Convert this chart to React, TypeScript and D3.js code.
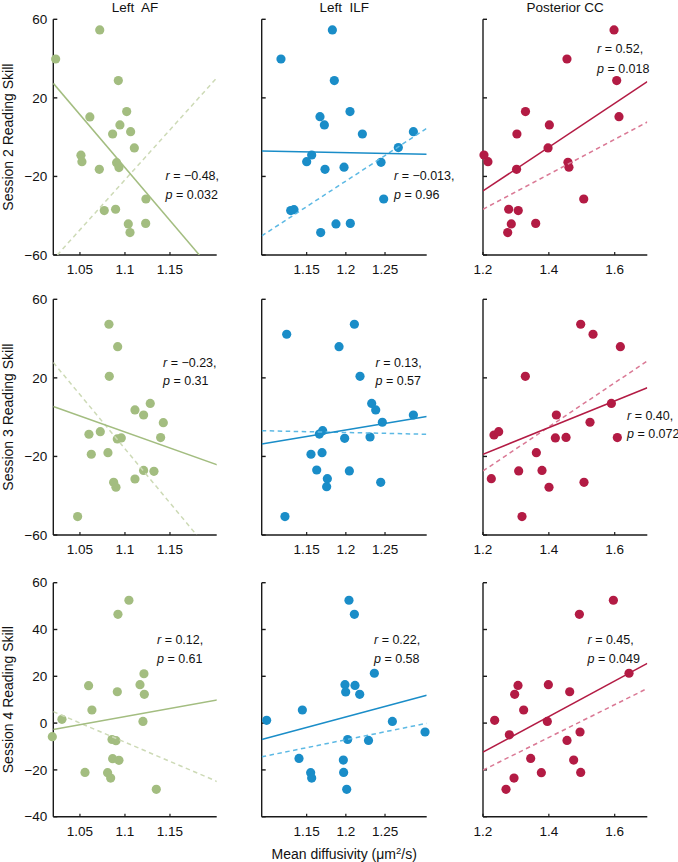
import React from 'react';
import * as d3 from 'd3';

const W = 678;
const H = 862;

// ---------- DATA ----------
const colTitles = ['Left  AF', 'Left  ILF', 'Posterior CC'];
const rowTitles = ['Session 2 Reading Skill', 'Session 3 Reading Skill', 'Session 4 Reading Skill'];

const xTickValues = [
  [1.05, 1.1, 1.15],
  [1.15, 1.2, 1.25],
  [1.2, 1.4, 1.6],
];
const xTickLabels = [
  ['1.05', '1.1', '1.15'],
  ['1.15', '1.2', '1.25'],
  ['1.2', '1.4', '1.6'],
];
const yTickValues = [
  [60, 20, -20, -60],
  [60, 20, -20, -60],
  [60, 40, 20, 0, -20, -40],
];
const xDomains = [
  [1.0204, 1.2019],
  [1.0926, 1.3032],
  [1.2, 1.699],
];
const yDomains = [
  [-60, 60],
  [-60, 60],
  [-40, 60],
];

// Session 2
const s2AF = [
  [1.072, 54.6], [1.023, 39.8], [1.0926, 28.8], [1.061, 10.3], [1.1019, 13], [1.0944, 6.2],
  [1.0863, 1.6], [1.1063, 2.8], [1.1104, -5.5], [1.0511, -9.2], [1.0522, -12.5], [1.0715, -16.4],
  [1.0907, -13], [1.0933, -15.5], [1.1233, -31.5], [1.077, -37.4], [1.0896, -36.7], [1.1037, -44.2],
  [1.123, -43.9], [1.1056, -48.6],
];
const s2ILF = [
  [1.1828, 54.6], [1.1172, 39.8], [1.1853, 28.8], [1.2053, 13], [1.167, 10.4], [1.1726, 6.2],
  [1.2211, 1.6], [1.2862, 2.8], [1.267, -5.3], [1.1564, -9.1], [1.15, -12.5], [1.1734, -16.4],
  [1.1977, -15.3], [1.2449, -12.8], [1.2483, -31.5], [1.1296, -37.4], [1.1338, -36.9], [1.1679, -48.6],
  [1.1874, -44.2], [1.2057, -43.9],
];
const s2CC = [
  [1.598, 54.6], [1.455, 39.8], [1.606, 28.8], [1.613, 10.4], [1.329, 13], [1.4015, 6.2],
  [1.303, 1.6], [1.3975, -5.5], [1.203, -9.1], [1.215, -12.5], [1.302, -16.4], [1.458, -12.8],
  [1.461, -15.3], [1.506, -31.5], [1.278, -36.7], [1.307, -37.4], [1.286, -44.2], [1.36, -43.9],
  [1.275, -48.6],
];
// Session 3
const s3AF = [
  [1.0822, 47.3], [1.0919, 35.9], [1.0826, 20.8], [1.1111, 3.7], [1.1281, 7], [1.1207, 1.1],
  [1.1426, -2.8], [1.1396, -10.4], [1.06, -8.7], [1.0726, -7.4], [1.0915, -11.1], [1.0959, -10.6],
  [1.0626, -18.9], [1.0811, -18.1], [1.1207, -27.1], [1.1322, -27.6], [1.1111, -31.5], [1.0874, -33.2],
  [1.09, -35.7], [1.0474, -50.6],
];
const s3ILF = [
  [1.1245, 42.2], [1.2109, 47.3], [1.1913, 35.9], [1.2181, 20.8], [1.233, 7], [1.2381, 3.7],
  [1.2466, -2.6], [1.2862, 1.1], [1.1704, -6.9], [1.1662, -8.6], [1.1985, -10.8], [1.2309, -10.1],
  [1.1555, -18.9], [1.1696, -18.1], [1.1628, -26.9], [1.2045, -27.4], [1.1764, -31.3], [1.1755, -35.4],
  [1.2445, -33.2], [1.1223, -50.6],
];
const s3CC = [
  [1.4967, 47.3], [1.5342, 42.2], [1.6172, 35.9], [1.3286, 20.8], [1.5899, 7], [1.4228, 1.1],
  [1.525, -2.6], [1.2334, -9.1], [1.2476, -7.4], [1.4198, -10.6], [1.4522, -10.3], [1.608, -10.4],
  [1.362, -18.1], [1.2253, -31.3], [1.3084, -27.4], [1.3792, -27.1], [1.4005, -35.7], [1.5068, -33.2],
  [1.3185, -50.6],
];
// Session 4
const s4AF = [
  [1.1044, 52.5], [1.0922, 46.5], [1.1211, 21.1], [1.1167, 16.4], [1.1215, 12.3], [1.0596, 16.0],
  [1.0915, 13.4], [1.0633, 5.6], [1.03, 1.6], [1.12, 0.7], [1.0193, -5.8], [1.0856, -7.0],
  [1.09, -7.5], [1.0863, -15.2], [1.0933, -15.9], [1.0556, -21.1], [1.0807, -21.2], [1.0841, -23.5],
  [1.1348, -28.3],
];
const s4ILF = [
  [1.204, 52.5], [1.2109, 46.5], [1.2364, 21.3], [1.1989, 16.4], [1.2117, 16.1], [1.1998, 13.3],
  [1.2177, 12.3], [1.1445, 5.6], [1.0989, 1.2], [1.2594, 0.7], [1.3011, -3.8], [1.2023, -7.0],
  [1.2289, -7.4], [1.1402, -15.1], [1.1968, -15.8], [1.1551, -21.2], [1.1972, -21.1], [1.1564, -23.5],
  [1.2011, -28.3],
];
const s4CC = [
  [1.596, 52.5], [1.4927, 46.5], [1.6435, 21.3], [1.3063, 16.1], [1.3985, 16.4], [1.2962, 12.3],
  [1.4633, 13.4], [1.3235, 5.6], [1.2354, 1.2], [1.3954, 0.7], [1.28, -5.0], [1.4947, -3.8],
  [1.4552, -7.4], [1.3448, -15.1], [1.4754, -15.8], [1.3772, -21.2], [1.4967, -21.1], [1.2942, -23.5],
  [1.2699, -28.3],
];

// Regression lines [x1, y1, x2, y2] in data units
const fitSolid = [
  [[1.0204, 27.4, 1.1826, -60], [1.0926, -7.0, 1.3032, -8.7], [1.2, -27.4, 1.699, 28.3]],
  [[1.0204, 5.4, 1.2026, -24.3], [1.0926, -13.7, 1.3032, 0.3], [1.2, -18.9, 1.699, 15.0]],
  [[1.0204, -2.7, 1.2026, 9.9], [1.0926, -7.0, 1.3032, 11.9], [1.2, -12.4, 1.699, 25.5]],
];
const fitDashed = [
  [[1.0248, -60, 1.2026, 30.5], [1.0926, -50.3, 1.3032, 4.5], [1.2, -36.7, 1.699, 7.7]],
  [[1.0204, 27.8, 1.1796, -60], [1.0926, -6.9, 1.3032, -8.7], [1.2, -27.4, 1.699, 28.6]],
  [[1.0204, 4.9, 1.2026, -25.0], [1.0926, -14.4, 1.3032, -0.1], [1.2, -20.1, 1.699, 14.8]],
];

const rValues = [
  ['\u22120.48,', '\u22120.013,', '0.52,'],
  ['\u22120.23,', '0.13,', '0.40,'],
  ['0.12,', '0.22,', '0.45,'],
];
const pValues = [
  ['0.032', '0.96', '0.018'],
  ['0.31', '0.57', '0.072'],
  ['0.61', '0.58', '0.049'],
];

const panelPoints = [
  [s2AF, s2ILF, s2CC],
  [s3AF, s3ILF, s3CC],
  [s4AF, s4ILF, s4CC],
];

// ---------- LAYOUT / STYLE ----------
const colX = [[53.3, 216.7], [261.7, 426.7], [483, 647.3]];
const rowY = [[19.3, 255], [299.3, 535], [582.7, 816.7]];
const statPos = [
  [[165.5, 176, 195], [394, 176, 195], [597, 48.3, 68.3]],
  [[163, 362.7, 381], [375.5, 362.5, 381], [627, 416, 434]],
  [[157, 639.5, 658.3], [374, 640, 658.3], [587.5, 640, 658.3]],
];
const colColors = ['#a3bd80', '#1a8dc8', '#b31b44'];
const dashColors = ['#cddab6', '#5db9e4', '#da7995'];
const FONT = "'Liberation Sans', Arial, Helvetica, sans-serif";
const AXIS = '#1a1a1a';

function Panel({ r, c }: { r: number; c: number }) {
  const [x0, x1] = colX[c];
  const [y0, y1] = rowY[r];
  const xs = d3.scaleLinear().domain(xDomains[c]).range([x0, x1]);
  const ys = d3.scaleLinear().domain(yDomains[r]).range([y1, y0]);
  const clipId = `clip-${r}-${c}`;
  const sf = fitSolid[r][c];
  const df = fitDashed[r][c];
  const line = d3.line<number[]>().x((d) => xs(d[0])).y((d) => ys(d[1]));
  const [sx, syR, syP] = statPos[r][c];
  const yMin = yDomains[r][0];
  const yMax = yDomains[r][1];
  return (
    <g>
      <defs>
        <clipPath id={clipId}>
          <rect x={x0} y={y0} width={x1 - x0} height={y1 - y0} />
        </clipPath>
      </defs>
      {/* axes */}
      <line x1={x0} x2={x0} y1={ys(yMax)} y2={ys(yMin)} stroke={AXIS} strokeWidth={1.4} />
      <line x1={x0} x2={x1} y1={ys(yMin)} y2={ys(yMin)} stroke={AXIS} strokeWidth={1.4} />
      {yTickValues[r].map((t) => (
        <g key={t}>
          <line x1={x0} x2={x0 + 4} y1={ys(t)} y2={ys(t)} stroke={AXIS} strokeWidth={1.4} />
          {c === 0 && (
            <text x={x0 - 6} y={ys(t)} dy="0.35em" textAnchor="end" fontSize={13.5} fontFamily={FONT} fill="#111">
              {t < 0 ? '\u2212' + Math.abs(t) : String(t)}
            </text>
          )}
        </g>
      ))}
      {xTickValues[c].map((t, i) => (
        <g key={t}>
          <line x1={xs(t)} x2={xs(t)} y1={ys(yMin)} y2={ys(yMin) - 3} stroke={AXIS} strokeWidth={1.2} />
          <text x={xs(t)} y={ys(yMin) + 19} textAnchor="middle" fontSize={13.5} fontFamily={FONT} fill="#111">
            {xTickLabels[c][i]}
          </text>
        </g>
      ))}
      {/* dots */}
      {panelPoints[r][c].map((d, i) => (
        <circle key={i} cx={xs(d[0])} cy={ys(d[1])} r={4.6} fill={colColors[c]} />
      ))}
      {/* fits */}
      <g clipPath={`url(#${clipId})`}>
        <path d={line([[df[0], df[1]], [df[2], df[3]]]) || ''} stroke={dashColors[c]} strokeWidth={1.5} strokeDasharray="4.5,3.5" fill="none" />
        <path d={line([[sf[0], sf[1]], [sf[2], sf[3]]]) || ''} stroke={colColors[c]} strokeWidth={1.5} fill="none" />
      </g>
      {/* stats */}
      <text x={sx} y={syR} dy="0.35em" fontSize={12.5} fontFamily={FONT} fill="#111">
        <tspan fontStyle="italic">r</tspan>
        <tspan>{' = ' + rValues[r][c]}</tspan>
      </text>
      <text x={sx} y={syP} dy="0.35em" fontSize={12.5} fontFamily={FONT} fill="#111">
        <tspan fontStyle="italic">p</tspan>
        <tspan>{' = ' + pValues[r][c]}</tspan>
      </text>
    </g>
  );
}

export default function App() {
  return (
    <svg width={W} height={H} style={{ position: 'absolute', left: 0, top: 0, background: '#fff' }}>
      <rect x={0} y={0} width={W} height={H} fill="#fff" />
      {colTitles.map((t, c) => (
        <text key={t} x={(colX[c][0] + colX[c][1]) / 2} y={12} textAnchor="middle" fontSize={13.5} fontFamily={FONT} fill="#111" style={{ whiteSpace: 'pre' }}>
          {t}
        </text>
      ))}
      {rowTitles.map((t, r) => {
        const cy = (rowY[r][0] + rowY[r][1]) / 2;
        return (
          <text key={t} transform={`translate(12.5,${cy}) rotate(-90)`} textAnchor="middle" fontSize={14} fontFamily={FONT} fill="#111">
            {t}
          </text>
        );
      })}
      {[0, 1, 2].map((r) => [0, 1, 2].map((c) => <Panel key={`${r}-${c}`} r={r} c={c} />))}
      <text x={(colX[1][0] + colX[1][1]) / 2} y={859} textAnchor="middle" fontSize={14} fontFamily={FONT} fill="#111">
        Mean diffusivity (μm
        <tspan dy={-5} fontSize={9.5}>2</tspan>
        <tspan dy={5}>/s)</tspan>
      </text>
    </svg>
  );
}
